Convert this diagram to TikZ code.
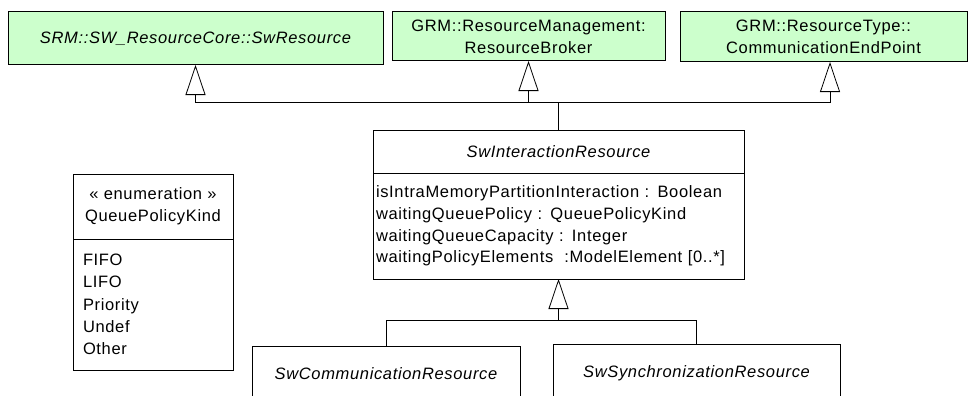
\documentclass[tikz,border=0pt]{standalone}
\usepackage{fontspec}
\setmainfont{Liberation Sans}[LetterSpace=4]
\usetikzlibrary{positioning,arrows.meta}
\definecolor{importgreen}{HTML}{CCFFCC}

\begin{document}
\begin{tikzpicture}[
        x=1pt, y=-1pt,
        every node/.style={font=\fontsize{16.5}{21.7}\selectfont, inner sep=0pt, outer sep=0pt},
        importbox/.style={rectangle, draw, fill=importgreen, line width=1pt, align=center},
        classbox/.style={rectangle, draw, line width=1pt, align=center},
        compartment/.style={rectangle, draw, line width=1pt, align=left},
        gen/.style={draw, line width=0.8pt, -{Triangle[open, length=30pt, width=20pt]}}
    ]
    \useasboundingbox (0,0) rectangle (969,396);
    \clip (0,0) rectangle (969,396);

    % imported classes
    \node[importbox, minimum width=375pt, minimum height=53pt] (swres) at (195.5,38.5)
        {\itshape SRM::SW\_ResourceCore::SwResource};
    \node[importbox, minimum width=273pt, minimum height=49pt] (broker) at (528.5,36.5)
        {GRM::ResourceManagement:\\ResourceBroker};
    \node[importbox, minimum width=287pt, minimum height=50pt] (endpoint) at (823.5,37)
        {GRM::ResourceType::\\CommunicationEndPoint};

    % SwInteractionResource
    \node[classbox, minimum width=371pt, minimum height=43pt] (interhead) at (558.5,151.5)
        {\itshape SwInteractionResource};
    \node[compartment, below=0pt of interhead, text width=365pt, inner xsep=3pt, minimum height=106pt] (interattrs)
        {isIntraMemoryPartitionInteraction : Boolean\\
         waitingQueuePolicy : QueuePolicyKind\\
         waitingQueueCapacity : Integer\\
         waitingPolicyElements\ \ :ModelElement [0..*]};

    % enumeration
    \node[classbox, minimum width=160pt, minimum height=65pt] (enumhead) at (153,206.5)
        {« enumeration »\\QueuePolicyKind};
    \node[compartment, below=0pt of enumhead, text width=140pt, inner xsep=10pt, minimum height=131pt,
          font=\fontsize{16.5}{22.3}\selectfont] (enumlits)
        {FIFO\\LIFO\\Priority\\Undef\\Other};

    % subclasses
    \node[classbox, minimum width=268pt, minimum height=56pt] (comm) at (386,374)
        {\itshape SwCommunicationResource};
    \node[classbox, minimum width=287pt, minimum height=58pt] (sync) at (696.5,373)
        {\itshape SwSynchronizationResource};

    % generalizations
    \coordinate (topbar) at (0,102);
    \coordinate (lowbar) at (0,320);
    \draw[gen] (interhead.north) -- (interhead.north |- topbar) -| (swres.south);
    \draw[gen] (interhead.north |- topbar) -| (broker.south);
    \draw[gen] (interhead.north |- topbar) -| ([xshift=6.5pt]endpoint.south);
    \draw[gen] (comm.north) |- (interattrs.south |- lowbar) -- (interattrs.south);
    \draw[line width=0.8pt] (sync.north) |- (interattrs.south |- lowbar);
\end{tikzpicture}
\end{document}
